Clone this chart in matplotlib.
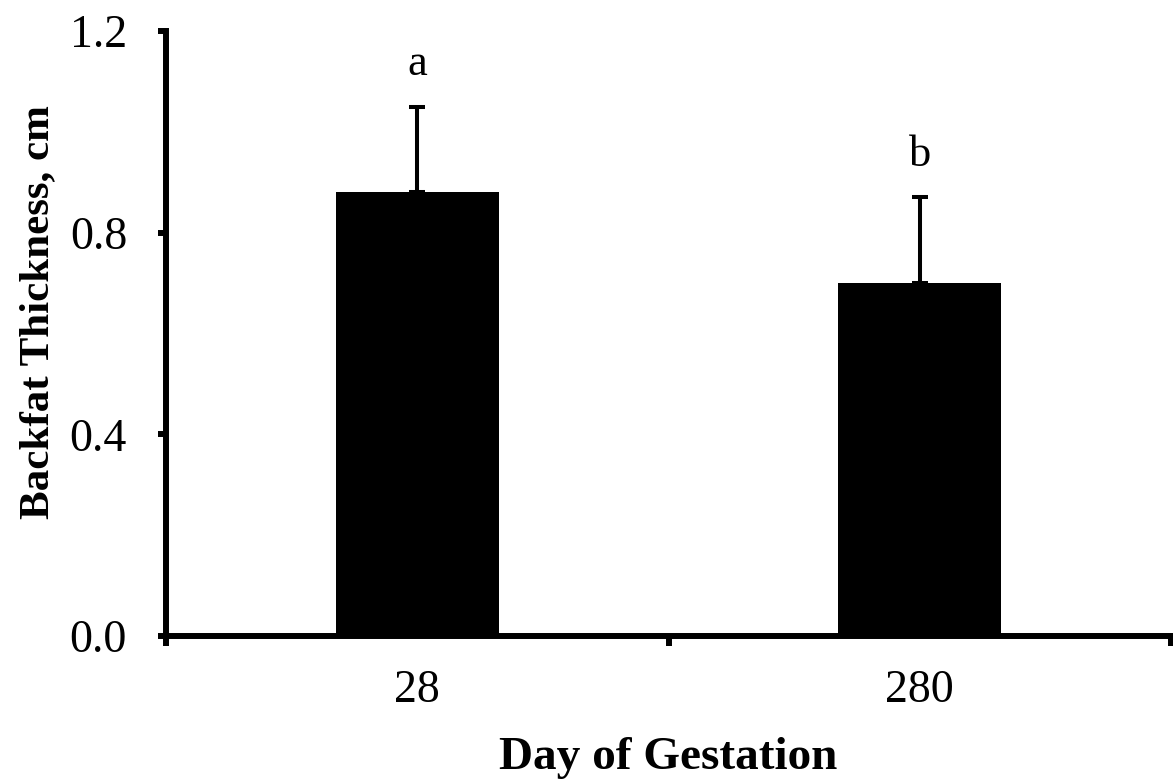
import numpy as np
import matplotlib
matplotlib.use("Agg")
import matplotlib.pyplot as plt

days = ["28", "280"]
backfat = [0.88, 0.70]
err = [0.17, 0.17]
letters = ["a", "b"]
yticks = [0.0, 0.4, 0.8, 1.2]

plt.rcParams["font.family"] = ["Liberation Serif", "DejaVu Serif"]

fig = plt.figure(figsize=(11.73, 7.80), dpi=100)
ax = fig.add_axes([166 / 1173, 144 / 780, 1005 / 1173, 605 / 780])

x = np.arange(len(days))
ax.bar(x, backfat, width=0.325, color="black", zorder=2)
ax.errorbar(x, backfat, yerr=[np.zeros(len(err)), err], fmt="none",
            ecolor="black", elinewidth=2.9, capsize=6, capthick=2.9, zorder=1)

# significance letters above the error bars
for xi, yv, e, lab in zip(x, backfat, err, letters):
    ax.text(xi, yv + e + 0.063, lab, ha="center", va="baseline", fontsize=32)

ax.set_xlim(-0.5, 1.5)
ax.set_ylim(0, 1.2)
ax.set_yticks(yticks)
ax.set_yticklabels([f"{v:.1f}" for v in yticks], fontsize=33)
ax.set_xticks(x)
ax.set_xticklabels(days, fontsize=33)
ax.set_xticks([-0.5, 0.5, 1.5], minor=True)

ax.tick_params(axis="x", which="major", length=0, pad=24)
ax.tick_params(axis="x", which="minor", length=7, width=4.3, direction="out")
ax.tick_params(axis="y", length=6, width=4.3, direction="out", pad=22)

for s in ["top", "right"]:
    ax.spines[s].set_visible(False)
for s in ["left", "bottom"]:
    ax.spines[s].set_linewidth(4.3)

ax.set_xlabel("Day of Gestation", fontsize=34, fontweight="bold", labelpad=18)
ax.set_ylabel("Backfat Thickness, cm", fontsize=31, fontweight="bold")
ax.yaxis.set_label_coords(-0.108, 0.535)

fig.savefig("out.png", dpi=100)
